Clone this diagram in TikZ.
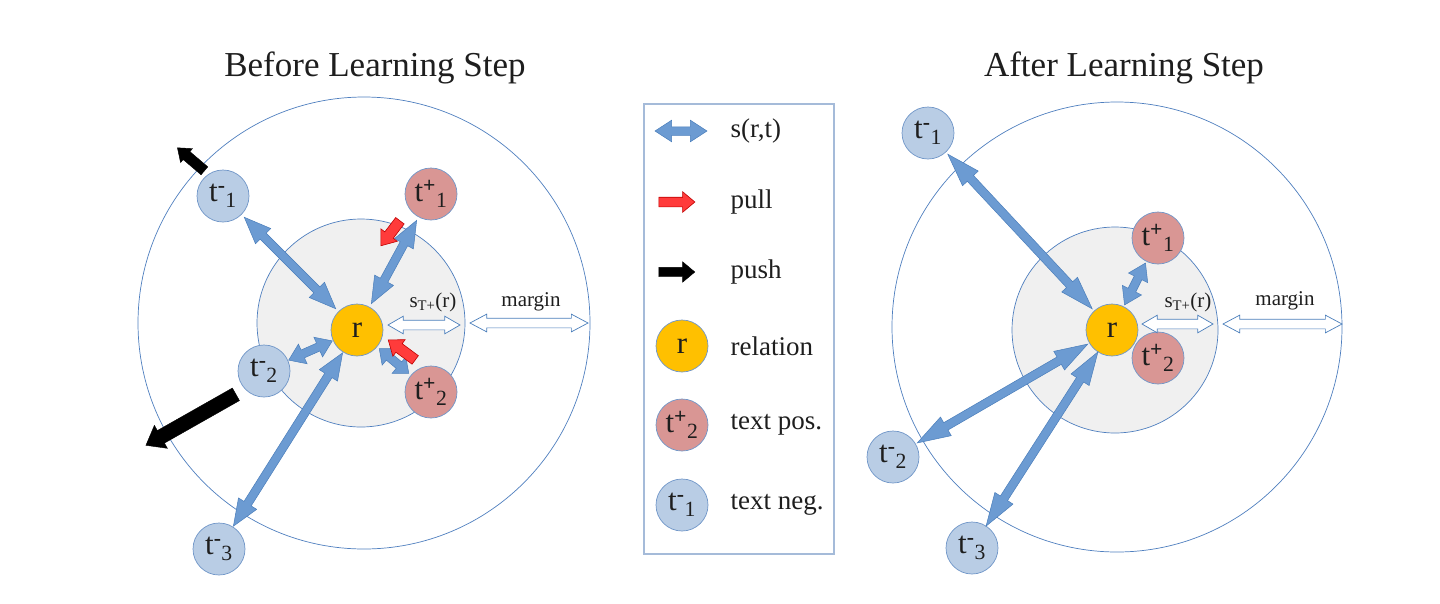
\documentclass[tikz,border=0pt]{standalone}
\usepackage{fontspec}
\setmainfont{Liberation Serif}
\usetikzlibrary{shapes.arrows,calc}
\definecolor{sblue}{HTML}{6C9BD2}
\definecolor{sbluedk}{HTML}{4A7EBB}
\definecolor{negfill}{HTML}{B9CDE5}
\definecolor{posfill}{HTML}{D99694}
\definecolor{relfill}{HTML}{FFC000}
\definecolor{nodeline}{HTML}{7096C8}
\definecolor{ringline}{HTML}{4F7FBF}
\definecolor{innerfill}{HTML}{F0F0F0}
\definecolor{pullred}{HTML}{FF3B3B}
\definecolor{pulldk}{HTML}{C00000}
\definecolor{boxline}{HTML}{A5BBD9}
\definecolor{txt}{HTML}{1E1E1E}
\newcommand\blockarr[3]{\path let \p1=($(#3)-(#2)$), \n1={atan2(\y1,\x1)}, \n2={veclen(\x1,\y1)} in ($(#2)!0.5!(#3)$) node[#1, rotate=\n1, minimum height=\n2] {};}
\newcommand\sconn[4][]{\path ($(#2)!#4!(#3)$) coordinate (ca) ($(#3)!#4!(#2)$) coordinate (cb);\blockarr{sarr,#1}{ca}{cb}}
\newcommand\tlab[2]{t\textsuperscript{\bfseries #1}\textsubscript{#2}}
\tikzset{
  sarr/.style={double arrow, fill=sblue, draw=sbluedk, line width=0.5pt, inner xsep=0pt, inner ysep=4pt, minimum width=0pt, double arrow head extend=6.5pt, double arrow tip angle=44},
  whitearr/.style={double arrow, fill=white, draw=sbluedk, line width=0.7pt, inner xsep=0pt, inner ysep=4.5pt, minimum width=0pt, double arrow head extend=4pt, double arrow tip angle=60},
  pusharr/.style={single arrow, fill=black, draw=black, inner xsep=0pt, inner ysep=7pt, minimum width=0pt, single arrow head extend=6pt, single arrow tip angle=75},
  pullarr/.style={single arrow, fill=pullred, draw=pulldk, line width=0.6pt, inner xsep=0pt, inner ysep=5pt, minimum width=0pt, single arrow head extend=5pt, single arrow tip angle=75},
  ent/.style={circle, minimum size=52pt, inner sep=0pt, draw=nodeline, line width=0.7pt, font=\fontsize{31}{31}\selectfont, text=txt},
  negnode/.style={ent, fill=negfill},
  posnode/.style={ent, fill=posfill},
  relnode/.style={ent, fill=relfill},
  ring/.style={draw=ringline, line width=0.7pt, fill=white},
  innerring/.style={draw=ringline, line width=0.7pt, fill=innerfill},
  titletext/.style={font=\fontsize{35}{40}\selectfont, text=txt, anchor=base},
  legtext/.style={font=\fontsize{27}{30}\selectfont, text=txt, anchor=west},
  lbltext/.style={font=\fontsize{21}{24}\selectfont, text=txt},
}
\begin{document}
\begin{tikzpicture}[x=1pt,y=-1pt]
\useasboundingbox (0,0) rectangle (1440,603);
% ---------- titles
\node[titletext] (tl) at (375,76) {Before Learning Step};
\node[titletext] (tr) at (1124,76) {After Learning Step};
% ---------- left diagram
\draw[ring] (364,323) circle[radius=226pt];
\draw[innerring] (361,323) circle[radius=104pt];
\node[negnode] (Ln1) at (223,196) {\tlab{-}{1}};
\node[posnode] (Lp1) at (431,194) {\tlab{+}{1}};
\node[negnode] (Ln2) at (264,371) {\tlab{-}{2}};
\node[posnode] (Lp2) at (431,392) {\tlab{+}{2}};
\node[negnode] (Ln3) at (219,549) {\tlab{-}{3}};
\node[relnode] (Lr) at (357,330) {r};
\sconn{Lr}{Ln1}{30pt}
\sconn{Lr}{Lp1}{30pt}
\sconn[double arrow tip angle=70]{Lr}{Ln2}{27pt}
\sconn[double arrow tip angle=80]{Lr}{Lp2}{29pt}
\sconn{Lr}{Ln3}{27pt}
\coordinate (pa1) at (207,173); \coordinate (pb1) at (180,150);
\coordinate (pa2) at (240,392); \coordinate (pb2) at (150,443);
\blockarr{pusharr, inner ysep=5pt, single arrow head extend=4pt}{pa1}{pb1}
\blockarr{pusharr}{pa2}{pb2}
\coordinate (qa1) at (402,218); \coordinate (qb1) at (383,243);
\coordinate (qa2) at (418,362); \coordinate (qb2) at (391,342);
\blockarr{pullarr}{qa1}{qb1}
\blockarr{pullarr}{qa2}{qb2}
\coordinate (wa1) at (388,325); \coordinate (wb1) at (460,325);
\coordinate (ma1) at (470,323); \coordinate (mb1) at (588,323);
\blockarr{whitearr}{wa1}{wb1}
\blockarr{whitearr, double arrow tip angle=56}{ma1}{mb1}
\node[lbltext] (sl) at (433,302) {s\textsubscript{T+}(r)};
\node[lbltext] (ml) at (531,302) {margin};
% ---------- legend
\draw[draw=boxline, line width=1.5pt] (644,104) rectangle (834,554);
\coordinate (la) at (655,131); \coordinate (lb) at (707,131);
\blockarr{sarr, double arrow tip angle=66}{la}{lb}
\node[legtext] (l1) at (727,131) {s(r,t)};
\coordinate (lc) at (656,202); \coordinate (ld) at (692,202);
\blockarr{pullarr, inner ysep=4.5pt, single arrow head extend=5.5pt, single arrow tip angle=80}{lc}{ld}
\node[legtext] (l2) at (727,202) {pull};
\coordinate (le) at (656,272); \coordinate (lf) at (692,272);
\blockarr{pusharr, inner ysep=4.5pt, single arrow head extend=5.5pt, single arrow tip angle=80}{le}{lf}
\node[legtext] (l3) at (727,272) {push};
\node[relnode] (lr) at (682,346) {r};
\node[legtext] (l4) at (727,346) {relation};
\node[posnode] (lp) at (682,425) {\tlab{+}{2}};
\node[legtext] (l5) at (727,425) {text pos.};
\node[negnode] (ln) at (682,505) {\tlab{-}{1}};
\node[legtext] (l6) at (727,505) {text neg.};
% ---------- right diagram
\draw[ring] (1117,327) circle[radius=225pt];
\draw[innerring] (1115,330) circle[radius=103pt];
\node[negnode] (Rn1) at (928,133) {\tlab{-}{1}};
\node[posnode] (Rp1) at (1158,238) {\tlab{+}{1}};
\node[posnode] (Rp2) at (1158,358) {\tlab{+}{2}};
\node[negnode] (Rn2) at (893,457) {\tlab{-}{2}};
\node[negnode] (Rn3) at (972,548) {\tlab{-}{3}};
\node[relnode] (Rr) at (1112,330) {r};
\sconn[double arrow tip angle=36]{Rr}{Rn1}{29pt}
\sconn[double arrow tip angle=66]{Rr}{Rp1}{28pt}
\sconn[double arrow tip angle=36]{Rr}{Rn2}{28pt}
\sconn[double arrow tip angle=36]{Rr}{Rn3}{26pt}
\coordinate (wa2) at (1142,324); \coordinate (wb2) at (1213,324);
\coordinate (ma2) at (1223,324); \coordinate (mb2) at (1342,324);
\blockarr{whitearr}{wa2}{wb2}
\blockarr{whitearr, double arrow tip angle=56}{ma2}{mb2}
\node[lbltext] (sr) at (1188,302) {s\textsubscript{T+}(r)};
\node[lbltext] (mr) at (1285,301) {margin};
\end{tikzpicture}
\end{document}
